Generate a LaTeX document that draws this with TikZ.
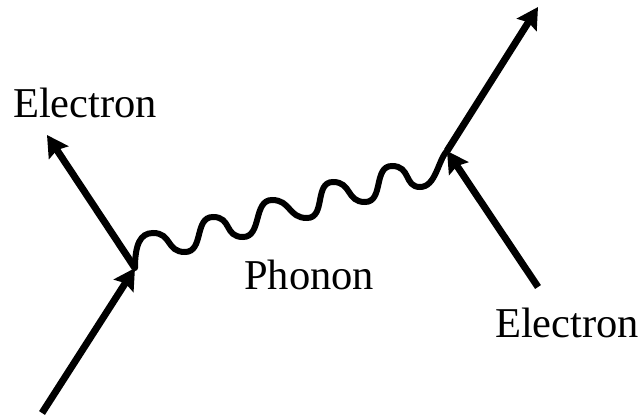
\documentclass[tikz,border=0pt]{standalone}
\usepackage{fontspec}
\setmainfont{Liberation Serif}
\usetikzlibrary{arrows.meta}
\begin{document}
\begin{tikzpicture}[x=1pt,y=-1pt,
  fermion/.style={line width=7pt,-{Stealth[length=21pt,width=23pt,inset=3pt]}},
  phonon/.style={line width=6pt,line cap=round},
  lbl/.style={inner sep=0pt,anchor=base west,font=\fontsize{42.5}{50}\selectfont}]
\useasboundingbox (0,0) rectangle (643,418);
% vertices and free ends
\coordinate (v1) at (135,268);
\coordinate (v2) at (447,151);
\coordinate (inL) at (42,413);
\coordinate (outL) at (47,135);
\coordinate (inR) at (538,287);
\coordinate (outR) at (538,7);
% electrons
\draw[fermion] (inL) -- (v1);
\draw[fermion] (v1) -- (outL);
\draw[fermion] (inR) -- (v2);
\draw[fermion] (v2) -- (outR);
% phonon
\draw[phonon] (v1) .. controls (135,245) and (140,233) .. (153,233)
  .. controls (172,233) and (166,252) .. (185,252)
  .. controls (204,252) and (194,217) .. (213,217)
  .. controls (232,217) and (224,237) .. (243,237)
  .. controls (262,237) and (253,200) .. (272,200)
  .. controls (291,200) and (288,218) .. (307,218)
  .. controls (326,218) and (314,182) .. (333,182)
  .. controls (352,182) and (346,202) .. (365,202)
  .. controls (384,202) and (373,166) .. (392,166)
  .. controls (411,166) and (404,187) .. (420,187)
  .. controls (436,187) and (438,160) .. (v2);
% labels
\node[lbl] (eL) at (13,117) {Electron};
\node[lbl] (eR) at (495,337) {Electron};
\node[lbl] (ph) at (244,289) {Phonon};
\end{tikzpicture}
\end{document}
